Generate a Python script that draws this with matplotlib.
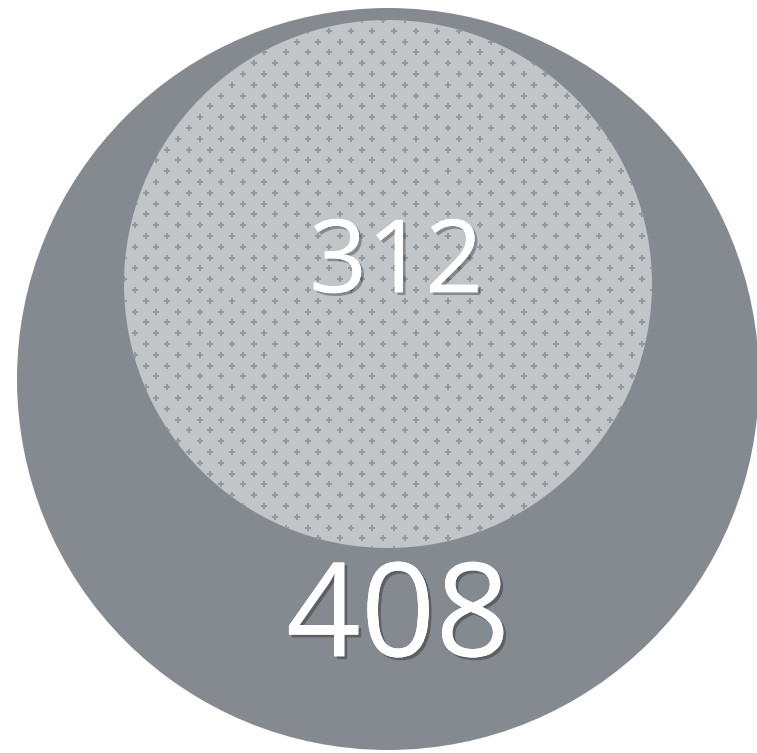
import numpy as np
import matplotlib.pyplot as plt
import matplotlib.patheffects as pe
from matplotlib.patches import Circle

# data
labels = ["408", "312"]
values = [408, 312]

# layout (pixel coords, y down)
outer = {"center": (388, 379), "radius": 371}
inner = {"center": (388, 284), "radius": 264}
label_pos = [(398, 622), (396, 266)]
font_sizes = [94, 73]

fig = plt.figure(figsize=(7.57, 7.53), dpi=100)
ax = fig.add_axes([0, 0, 1, 1])
ax.set_xlim(0, 757)
ax.set_ylim(753, 0)
ax.set_aspect("equal")
ax.axis("off")

ax.add_patch(Circle(outer["center"], outer["radius"], facecolor="#848a90",
                    edgecolor="none"))
disc = Circle(inner["center"], inner["radius"], facecolor="#c2c5c8",
              edgecolor="none")
ax.add_patch(disc)

# dotted texture on the inner disc (staggered grid of small plus marks)
step_x, step_y = 21.6, 10.8
cx, cy = inner["center"]
r = inner["radius"]
gx, gy = [], []
for i, yy in enumerate(np.arange(cy - r, cy + r + step_y, step_y)):
    shift = step_x / 2 if i % 2 else 0
    xs = np.arange(cx - r + shift, cx + r + step_x, step_x)
    gx.extend(xs)
    gy.extend([yy] * len(xs))
dots = ax.scatter(gx, gy, marker="P", s=14, color="#939a9f", linewidths=0)
dots.set_clip_path(disc)

shadow = [pe.withSimplePatchShadow(offset=(2, -2), shadow_rgbFace="black",
                                   alpha=0.3),
          pe.Normal()]
for val, (x, y), fs in zip(values, label_pos, font_sizes):
    ax.text(x, y, str(val), color="white", fontsize=fs, family="Open Sans",
            ha="center", va="center", path_effects=shadow)

plt.savefig("out.png", dpi=100)
plt.close()
